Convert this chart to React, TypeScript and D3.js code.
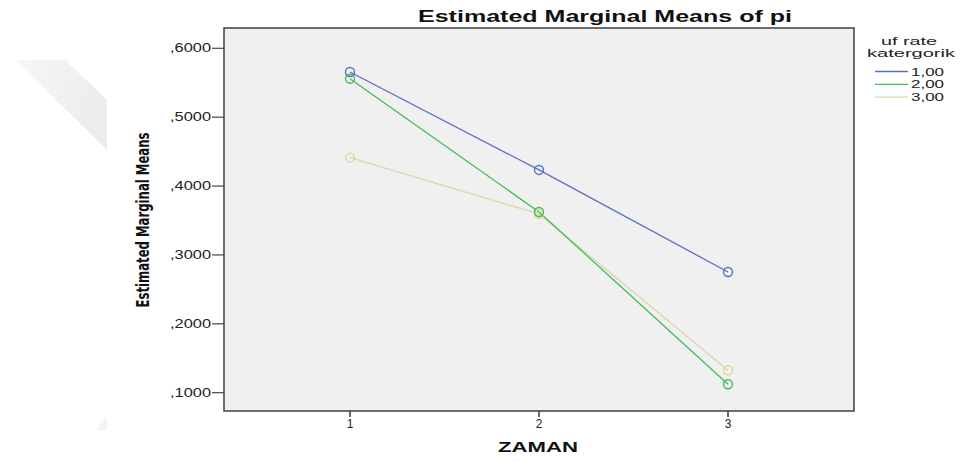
import React, { useEffect, useRef } from 'react';
import * as d3 from 'd3';

// ZAMAN levels
const zaman = [1, 2, 3];
// series (uf rate katergorik)
const groups = ['1,00', '2,00', '3,00'];
const means1 = [0.5656, 0.4234, 0.2753];
const means2 = [0.5559, 0.3624, 0.1123];
const means3 = [0.4412, 0.3595, 0.1326];
const yTicks = [0.1, 0.2, 0.3, 0.4, 0.5, 0.6];
const colors = ['#5b6fc4', '#3fbd57', '#dcd6a8'];

const W = 960;
const H = 462;

const App = () => {
    const svgRef = useRef<SVGSVGElement>(null);

    useEffect(() => {
        const svg = d3.select(svgRef.current);
        svg.selectAll('*').remove();

        const plot = { left: 224, top: 28, right: 854, bottom: 411 };
        const font = 'Arial, "Liberation Sans", sans-serif';

        const x = d3.scaleLinear().domain([1 / 3, 11 / 3]).range([plot.left, plot.right]);
        const y = d3.scaleLinear().domain([0.1, 0.6]).range([392.7, 48.3]);

        // faded watermark on the left
        const defs = svg.append('defs');
        const grad = defs.append('linearGradient')
            .attr('id', 'wm')
            .attr('x1', '0').attr('y1', '0')
            .attr('x2', '1').attr('y2', '0.4');
        grad.append('stop').attr('offset', '0%').style('stop-color', '#f7f7f7');
        grad.append('stop').attr('offset', '100%').style('stop-color', '#ececec');
        svg.append('path')
            .attr('d', 'M15,60 L65,60 L107,100 L107,150 Z')
            .style('fill', 'url(#wm)');
        svg.append('path')
            .attr('d', 'M107,417 L107,430 L96,430 Z')
            .style('fill', '#f4f4f4');

        // plot background and frame
        svg.append('rect')
            .attr('x', plot.left)
            .attr('y', plot.top)
            .attr('width', plot.right - plot.left)
            .attr('height', plot.bottom - plot.top)
            .style('fill', '#f0f0f0')
            .style('stroke', '#4a4a4a')
            .style('stroke-width', 1.6);

        // y axis ticks
        const fmt = (v: number) => ',' + v.toFixed(4).split('.')[1];
        yTicks.forEach(t => {
            svg.append('line')
                .attr('x1', plot.left - 12).attr('x2', plot.left)
                .attr('y1', y(t)).attr('y2', y(t))
                .style('stroke', '#444').style('stroke-width', 1.2);
            svg.append('text')
                .attr('x', plot.left - 13)
                .attr('y', y(t) + 4)
                .attr('text-anchor', 'end')
                .attr('textLength', 41)
                .attr('lengthAdjust', 'spacingAndGlyphs')
                .text(fmt(t))
                .style('font-family', font)
                .style('font-size', '12px')
                .style('fill', '#222');
        });

        // x axis ticks
        zaman.forEach(z => {
            svg.append('line')
                .attr('x1', x(z)).attr('x2', x(z))
                .attr('y1', plot.bottom).attr('y2', plot.bottom + 6)
                .style('stroke', '#444').style('stroke-width', 1.6);
            svg.append('text')
                .attr('x', x(z))
                .attr('y', 428)
                .attr('text-anchor', 'middle')
                .text(z)
                .style('font-family', font)
                .style('font-size', '12px')
                .style('fill', '#222');
        });

        // series
        const all = [means1, means2, means3];
        const line = d3.line<number>()
            .x((d, i) => x(zaman[i]))
            .y(d => y(d));

        [2, 1, 0].forEach(s => {
            svg.append('path')
                .datum(all[s])
                .attr('d', line)
                .style('fill', 'none')
                .style('stroke', colors[s])
                .style('stroke-width', 1.3);
        });
        [2, 1, 0].forEach(s => {
            svg.selectAll('.pt' + s)
                .data(all[s])
                .enter()
                .append('circle')
                .attr('cx', (d, i) => x(zaman[i]))
                .attr('cy', d => y(d))
                .attr('r', 4.5)
                .style('fill', 'none')
                .style('stroke', colors[s])
                .style('stroke-width', 1.4);
        });

        // titles
        svg.append('text')
            .attr('x', 605)
            .attr('y', 22)
            .attr('text-anchor', 'middle')
            .attr('textLength', 374)
            .attr('lengthAdjust', 'spacingAndGlyphs')
            .text('Estimated Marginal Means of pi')
            .style('font-family', font)
            .style('font-weight', 'bold')
            .style('font-size', '17px')
            .style('fill', '#111');

        svg.append('text')
            .attr('x', 538)
            .attr('y', 452)
            .attr('text-anchor', 'middle')
            .attr('textLength', 80)
            .attr('lengthAdjust', 'spacingAndGlyphs')
            .text('ZAMAN')
            .style('font-family', font)
            .style('font-weight', 'bold')
            .style('font-size', '14px')
            .style('fill', '#111');

        svg.append('text')
            .attr('transform', 'translate(149,220) rotate(-90)')
            .attr('text-anchor', 'middle')
            .attr('textLength', 175)
            .attr('lengthAdjust', 'spacingAndGlyphs')
            .text('Estimated Marginal Means')
            .style('font-family', '"Liberation Sans Narrow", "DejaVu Sans Condensed", Arial, sans-serif')
            .style('font-weight', 'bold')
            .style('font-size', '18px')
            .style('fill', '#111');

        // legend
        svg.append('text')
            .attr('x', 909).attr('y', 44.5)
            .attr('text-anchor', 'middle')
            .attr('textLength', 56)
            .attr('lengthAdjust', 'spacingAndGlyphs')
            .text('uf rate')
            .style('font-family', font)
            .style('font-size', '11px')
            .style('fill', '#222');
        svg.append('text')
            .attr('x', 911).attr('y', 57)
            .attr('text-anchor', 'middle')
            .attr('textLength', 88)
            .attr('lengthAdjust', 'spacingAndGlyphs')
            .text('katergorik')
            .style('font-family', font)
            .style('font-size', '11px')
            .style('fill', '#222');

        groups.forEach((g, i) => {
            const ly = 71.5 + i * 12.8;
            svg.append('line')
                .attr('x1', 875).attr('x2', 908)
                .attr('y1', ly).attr('y2', ly)
                .style('stroke', colors[i])
                .style('stroke-width', 1.3);
            svg.append('text')
                .attr('x', 911).attr('y', ly + 4)
                .attr('textLength', 33)
                .attr('lengthAdjust', 'spacingAndGlyphs')
                .text(g)
                .style('font-family', font)
                .style('font-size', '11.5px')
                .style('fill', '#222');
        });
    }, []);

    return (
        <svg
            ref={svgRef}
            width={W}
            height={H}
            style={{ position: 'absolute', left: 0, top: 0, background: '#fff' }}
        ></svg>
    );
};

export default App;
